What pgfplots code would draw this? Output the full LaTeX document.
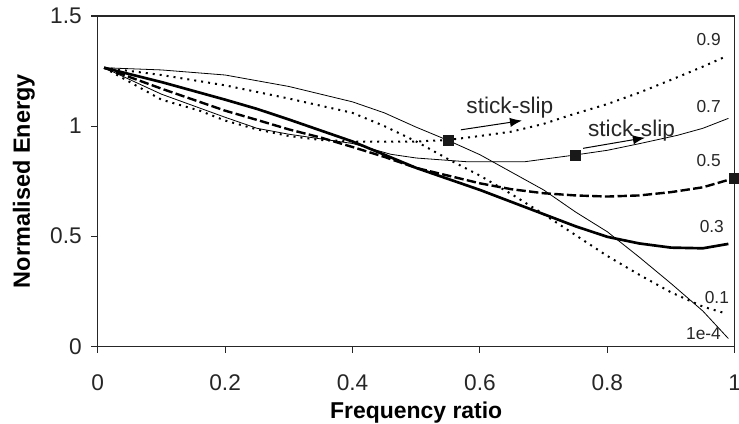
\documentclass[border=0pt]{standalone}
\usepackage{pgfplots}
\pgfplotsset{compat=1.18}
\usetikzlibrary{arrows.meta}
\usepackage{fontspec}
\setmainfont{Liberation Sans}
\begin{document}
\begin{tikzpicture}
\begin{axis}[
  scale only axis,
  width=477.75pt, height=247.7pt,
  xmin=0, xmax=1, ymin=0, ymax=1.5,
  xtick={0,0.2,0.4,0.6,0.8,1},
  ytick={0,0.5,1,1.5},
  tick align=outside, tick pos=left,
  major tick length=5pt,
  /pgf/number format/assume math mode=true,
  ticklabel style={font=\fontsize{17}{19}\selectfont, text=black!85},
  xticklabel style={yshift=-12.75pt},
  yticklabel style={xshift=-3.5pt},
  xlabel={\textbf{Frequency ratio}},
  ylabel={\textbf{Normalised Energy}},
  xlabel style={font=\fontsize{17.2}{19}\selectfont, at={(axis description cs:0.5,-0.2019)}, anchor=center},
  ylabel style={font=\fontsize{17.6}{19}\selectfont, at={(axis description cs:-0.1158,0.5)}, anchor=center},
  axis line style={line width=0.8pt, black!85},
  every tick/.style={line width=0.8pt, black!85},
  clip=false,
]
% 1e-4
\addplot[black, line width=0.6pt] coordinates {
(0.01,1.265)(0.1,1.255)(0.2,1.232)(0.3,1.18)(0.4,1.11)(0.45,1.06)(0.5,0.995)(0.55,0.935)(0.6,0.87)(0.65,0.79)(0.7,0.71)(0.75,0.61)(0.8,0.52)(0.85,0.405)(0.9,0.285)(0.95,0.16)(0.99,0.035)};
% 0.1
\addplot[black, line width=1.5pt, dash pattern=on 1.5pt off 3.75pt] coordinates {
(0.01,1.265)(0.1,1.232)(0.2,1.185)(0.3,1.125)(0.4,1.06)(0.45,1.0)(0.5,0.93)(0.55,0.85)(0.6,0.775)(0.65,0.69)(0.7,0.6)(0.75,0.505)(0.8,0.41)(0.85,0.325)(0.9,0.245)(0.95,0.18)(0.985,0.15)};
% 0.3
\addplot[black, line width=2pt] coordinates {
(0.01,1.265)(0.1,1.2)(0.2,1.12)(0.25,1.078)(0.3,1.03)(0.4,0.93)(0.5,0.81)(0.55,0.76)(0.6,0.71)(0.65,0.655)(0.7,0.60)(0.75,0.545)(0.8,0.497)(0.85,0.467)(0.9,0.448)(0.95,0.445)(0.99,0.465)};
% 0.5
\addplot[black, line width=1.8pt, dash pattern=on 7pt off 2.5pt] coordinates {
(0.01,1.265)(0.1,1.17)(0.2,1.07)(0.25,1.028)(0.3,0.985)(0.35,0.948)(0.4,0.905)(0.45,0.86)(0.5,0.81)(0.55,0.775)(0.6,0.74)(0.65,0.713)(0.7,0.695)(0.75,0.685)(0.8,0.68)(0.85,0.685)(0.9,0.70)(0.95,0.722)(1.0,0.764)};
% 0.7
\addplot[black, line width=0.6pt] coordinates {
(0.01,1.265)(0.1,1.145)(0.2,1.04)(0.25,0.99)(0.3,0.963)(0.4,0.921)(0.46,0.872)(0.5,0.855)(0.58,0.838)(0.67,0.838)(0.75,0.869)(0.8,0.89)(0.85,0.92)(0.91,0.958)(0.95,0.99)(0.99,1.035)};
% 0.9
\addplot[black, line width=1.5pt, dash pattern=on 1.5pt off 3.75pt] coordinates {
(0.01,1.265)(0.1,1.12)(0.16,1.07)(0.2,1.025)(0.25,0.985)(0.3,0.955)(0.35,0.937)(0.4,0.93)(0.45,0.929)(0.5,0.93)(0.55,0.937)(0.6,0.955)(0.65,0.975)(0.7,1.01)(0.74,1.048)(0.8,1.10)(0.85,1.152)(0.9,1.21)(0.95,1.27)(0.985,1.315)};
% stick-slip markers
\addplot[only marks, mark=square*, mark size=3.75pt, black!90] coordinates {(0.55,0.937)(0.75,0.869)(1.0,0.764)};
% arrows
\draw[-{Latex[length=9pt,width=7pt]}, line width=0.75pt] (axis cs:0.57,0.983) -- (axis cs:0.666,1.025);
\draw[-{Latex[length=9pt,width=7pt]}, line width=0.75pt] (axis cs:0.762,0.899) -- (axis cs:0.859,0.947);
\node[font=\fontsize{17}{19}\selectfont, text=black!85] at (axis cs:0.647,1.082) {stick-slip};
\node[font=\fontsize{17}{19}\selectfont, text=black!85] at (axis cs:0.838,0.978) {stick-slip};
\node[font=\fontsize{13}{15}\selectfont, text=black!85] at (axis cs:0.959,1.391) {0.9};
\node[font=\fontsize{13}{15}\selectfont, text=black!85] at (axis cs:0.959,1.091) {0.7};
\node[font=\fontsize{13}{15}\selectfont, text=black!85] at (axis cs:0.959,0.843) {0.5};
\node[font=\fontsize{13}{15}\selectfont, text=black!85] at (axis cs:0.964,0.543) {0.3};
\node[font=\fontsize{13}{15}\selectfont, text=black!85] at (axis cs:0.972,0.222) {0.1};
\node[font=\fontsize{13}{15}\selectfont, text=black!85] at (axis cs:0.951,0.056) {1e-4};
\end{axis}
\pgfresetboundingbox
\path[use as bounding box] (current axis.south west) ++(-73.3pt,-58.3pt) rectangle ++(554.25pt,318pt);
\end{tikzpicture}
\end{document}
